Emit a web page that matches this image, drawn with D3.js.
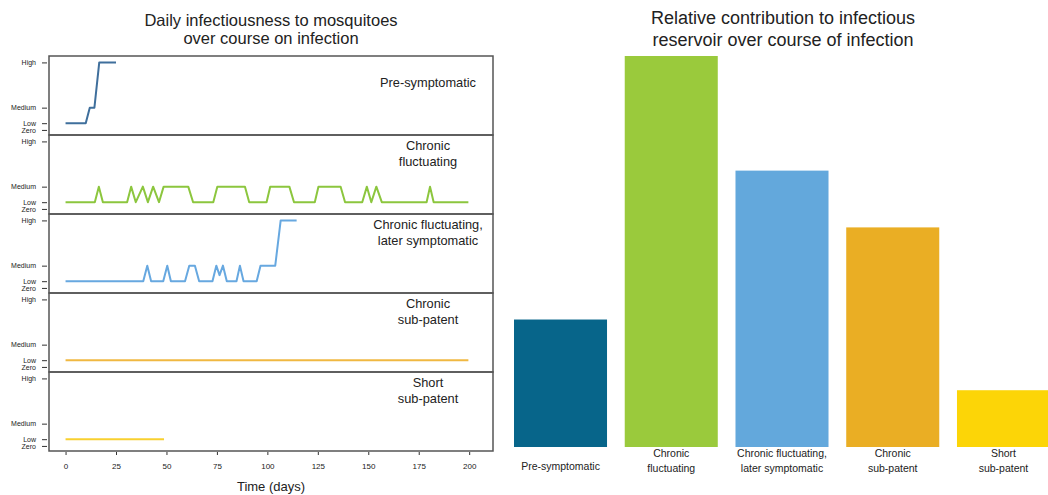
<!DOCTYPE html>
<html>
<head>
<meta charset="utf-8">
<script src="https://cdn.jsdelivr.net/npm/d3@7"></script>
<style>
  html, body { margin: 0; padding: 0; background: #fff; }
  svg { display: block; font-family: "Liberation Sans", Arial, sans-serif; }
</style>
</head>
<body>
<svg id="chart" width="1048" height="495"></svg>
<script>
// Infectiousness levels (ordinal scale shown on each panel's y axis)
const levelNames  = ["Zero", "Low", "Medium", "High"];
const levelValues = [0, 0.1, 0.33, 1];
const [ZERO, LOW, MED, HIGH] = levelValues;

// Time axis ticks (days)
const dayTicks = [0, 25, 50, 75, 100, 125, 150, 175, 200];

// Infection types
const typeLabels = [
  ["Pre-symptomatic"],
  ["Chronic", "fluctuating"],
  ["Chronic fluctuating,", "later symptomatic"],
  ["Chronic", "sub-patent"],
  ["Short", "sub-patent"]
];
const lineColors = ["#3f6f9c", "#8cc63e", "#67a8e0", "#f0b842", "#f8d030"];
const barColors  = ["#07658a", "#9aca3c", "#63a8dc", "#eaae24", "#fcd507"];

// Daily infectiousness trajectories: [day, level]
const preSymptomatic = [[0, LOW], [10, LOW], [12, MED], [14.3, MED], [16.7, HIGH], [25, HIGH]];
const chronicFluctuating = [
  [0, LOW], [14.5, LOW], [16.5, MED], [18.5, LOW], [30.5, LOW], [32.5, MED], [34.8, LOW],
  [38.3, MED], [40.8, LOW], [43.4, MED], [46.3, LOW], [48.6, MED], [60.8, MED], [63.2, LOW],
  [73.2, LOW], [75.2, MED], [88.9, MED], [91, LOW], [99.6, LOW], [101.4, MED], [110.9, MED],
  [113.2, LOW], [123.5, LOW], [125.3, MED], [136.3, MED], [138.5, LOW], [147, LOW], [149.3, MED],
  [151.5, LOW], [154, MED], [156.7, LOW], [178.9, LOW], [180.6, MED], [182.4, LOW], [199.6, LOW]
];
const chronicLaterSymptomatic = [
  [0, LOW], [38.5, LOW], [40.5, MED], [42.4, LOW], [48.4, LOW], [50.4, MED], [52.2, LOW],
  [59.2, LOW], [61.3, MED], [64.1, MED], [66.2, LOW], [72.8, LOW], [74.7, MED], [76.3, 0.19],
  [78, MED], [79.9, LOW], [84.7, LOW], [86.4, MED], [88.2, LOW], [94.7, LOW], [96.6, MED],
  [103.9, MED], [106.6, HIGH], [114.5, HIGH]
];
const chronicSubPatent = [[0, LOW], [199.6, LOW]];
const shortSubPatent   = [[0, LOW], [48.8, LOW]];
const trajectories = [preSymptomatic, chronicFluctuating, chronicLaterSymptomatic, chronicSubPatent, shortSubPatent];

// Relative contribution to the infectious reservoir (%)
const contributions = [11.9, 36.5, 25.8, 20.5, 5.3];

const svg = d3.select("#chart");
const textColor = "#222";

// ---------- Left: stacked panels of daily infectiousness ----------
const plotLeft = 49, plotRight = 493, panelTop = 56, panelH = 79;
const x = d3.scaleLinear().domain([-8.2, 211.8]).range([plotLeft, plotRight]);

const leftTitle = svg.append("text")
  .attr("x", (plotLeft + plotRight) / 2).attr("text-anchor", "middle")
  .attr("font-size", 16.5).attr("fill", textColor);
leftTitle.append("tspan").attr("x", (plotLeft + plotRight) / 2).attr("y", 26).text("Daily infectiousness to mosquitoes");
leftTitle.append("tspan").attr("x", (plotLeft + plotRight) / 2).attr("y", 44).text("over course on infection");

trajectories.forEach((series, i) => {
  const top = panelTop + i * panelH;
  const y = d3.scaleLinear().domain([-0.075, 1.095]).range([top + panelH, top]);
  const g = svg.append("g");

  // y ticks and level labels
  const yAxis = d3.axisLeft(y).tickValues(levelValues)
    .tickFormat((d, k) => levelNames[k]).tickSize(5).tickPadding(6);
  const ay = g.append("g").attr("transform", `translate(${plotLeft - 2},0)`).call(yAxis);
  ay.select(".domain").remove();
  ay.selectAll(".tick line").attr("stroke", "#333").attr("stroke-width", 1);
  ay.selectAll(".tick text").attr("font-size", 7).attr("fill", textColor)
    .attr("font-family", "\"Liberation Sans\", Arial, sans-serif");

  // trajectory
  const line = d3.line().x(d => x(d[0])).y(d => y(d[1]));
  g.append("path").datum(series).attr("d", line)
    .attr("fill", "none").attr("stroke", lineColors[i])
    .attr("stroke-width", 2).attr("stroke-linejoin", "round");

  // panel frame
  g.append("rect").attr("x", plotLeft).attr("y", top)
    .attr("width", plotRight - plotLeft).attr("height", panelH)
    .attr("fill", "none").attr("stroke", "#555").attr("stroke-width", 1.5);

  // panel label
  const lines = typeLabels[i];
  const lab = g.append("text").attr("text-anchor", "middle")
    .attr("font-size", 12.8).attr("fill", textColor);
  lines.forEach((t, k) => {
    const row = lines.length === 1 ? 1 : k;
    lab.append("tspan").attr("x", 428).attr("y", top + 14.5 + row * 16).text(t);
  });
});

// time axis under the last panel
const bottom = panelTop + trajectories.length * panelH;
const xAxis = d3.axisBottom(x).tickValues(dayTicks).tickSize(3).tickPadding(8);
const ax = svg.append("g").attr("transform", `translate(0,${bottom + 1})`).call(xAxis);
ax.select(".domain").remove();
ax.selectAll(".tick line").attr("stroke", "#333");
ax.selectAll(".tick text").attr("font-size", 8).attr("fill", textColor)
  .attr("font-family", "\"Liberation Sans\", Arial, sans-serif");
svg.append("text").attr("x", (plotLeft + plotRight) / 2).attr("y", 490.5)
  .attr("text-anchor", "middle").attr("font-size", 13).attr("fill", textColor)
  .text("Time (days)");

// ---------- Right: bar chart of relative contribution ----------
const xb = d3.scaleBand().domain(d3.range(contributions.length))
  .range([514, 1050]).paddingInner(0.16).paddingOuter(0);
const yb = d3.scaleLinear().domain([0, d3.max(contributions)]).range([447, 56]);

const rightTitle = svg.append("text").attr("text-anchor", "middle")
  .attr("font-size", 18).attr("fill", textColor);
rightTitle.append("tspan").attr("x", 783).attr("y", 23.5).text("Relative contribution to infectious");
rightTitle.append("tspan").attr("x", 783).attr("y", 46).text("reservoir over course of infection");

svg.append("g").selectAll("rect").data(contributions).join("rect")
  .attr("x", (d, i) => xb(i)).attr("width", xb.bandwidth())
  .attr("y", d => yb(d)).attr("height", d => yb(0) - yb(d))
  .attr("fill", (d, i) => barColors[i]);

typeLabels.forEach((lines, i) => {
  const cx = xb(i) + xb.bandwidth() / 2;
  const t = svg.append("text").attr("text-anchor", "middle")
    .attr("font-size", 10.5).attr("fill", textColor);
  if (lines.length === 1) {
    t.append("tspan").attr("x", cx).attr("y", 470).text(lines[0]);
  } else {
    lines.forEach((s, k) => t.append("tspan").attr("x", cx).attr("y", 457 + k * 15).text(s));
  }
});
</script>
</body>
</html>
